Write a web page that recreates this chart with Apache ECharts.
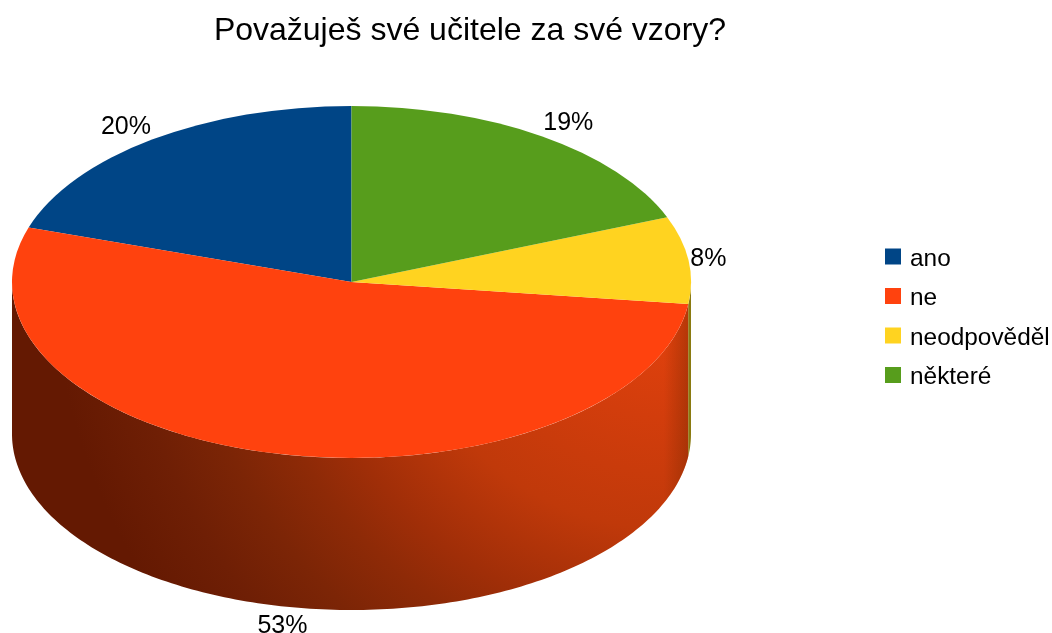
<!DOCTYPE html>
<html>
<head>
<meta charset="utf-8">
<style>html,body{margin:0;padding:0;background:#fff}#c{width:1052px;height:633px}</style>
<script src="https://cdn.jsdelivr.net/npm/echarts@6/dist/echarts.min.js"></script>
</head>
<body>
<div id="c"></div>
<script>
// Survey answers, in percent, laid out counter-clockwise from twelve o'clock
const categories = ['ano', 'ne', 'neodpověděl', 'některé'];
const shares = [20, 53, 8, 19];
const colors = ['#004586', '#ff420e', '#ffd320', '#579d1c'];
const titleText = 'Považuješ své učitele za své vzory?';

// Tilted disc geometry and label nudges from the rim, in pixels
const disc = { cx: 351.5, cy: 282, rx: 339.5, ry: 176, depth: 152 };
const labelNudges = [[-26, -13], [5, 20], [20, -1], [26, -13]];
const font = '"Liberation Sans", Arial, sans-serif';
const rad = Math.PI / 180;

const total = shares.reduce((a, b) => a + b, 0);

// Clockwise-from-top angular range of slice i
function range(i) {
  const before = shares.slice(0, i).reduce((a, b) => a + b, 0);
  const end = 360 - before / total * 360;
  return [end - shares[i] / total * 360, end];
}
function rim(deg, drop) {
  return [disc.cx + disc.rx * Math.sin(deg * rad), disc.cy - disc.ry * Math.cos(deg * rad) + drop];
}
// Outline of the side wall between two angles on the front half of the disc
function wallPoints(a, b) {
  const from = Math.max(a, 90), to = Math.min(b, 270), pts = [];
  if (to <= from) return null;
  for (let d = from; d < to; d += 1) pts.push(rim(d, 0));
  pts.push(rim(to, 0));
  for (let d = to; d > from; d -= 1) pts.push(rim(d, disc.depth));
  pts.push(rim(from, disc.depth));
  return pts;
}

const G = echarts.graphic;
// Light falls on the wall from the upper right and dies away towards the lower left
const wallShade = new G.RadialGradient(670, 250, 620, [
  { offset: 0, color: '#ee450e' },
  { offset: 0.27, color: '#d23d0c' },
  { offset: 0.45, color: '#c0390a' },
  { offset: 0.6, color: '#a02e08' },
  { offset: 0.68, color: '#8e2a07' },
  { offset: 0.78, color: '#7c2506' },
  { offset: 0.88, color: '#6f1f05' },
  { offset: 1, color: '#641902' }
], true);
const edgeShade = new G.LinearGradient(664, 0, 690, 0, [
  { offset: 0, color: 'rgba(120,40,0,0)' },
  { offset: 1, color: 'rgba(120,40,0,0.45)' }
], true);
const sideColors = { 1: wallShade, 2: '#8a7a10' };

function drawSlice(i) {
  return function () {
    const [a, b] = range(i);
    const children = [];
    const wall = wallPoints(a, b);
    if (wall) {
      children.push({ type: 'polygon', shape: { points: wall }, style: { fill: sideColors[i] || colors[i] } });
      if (i === 1) children.push({ type: 'polygon', shape: { points: wall }, style: { fill: edgeShade } });
    }
    children.push({
      type: 'group', x: disc.cx, y: disc.cy, scaleY: disc.ry / disc.rx,
      children: [{
        type: 'sector',
        shape: { cx: 0, cy: 0, r: disc.rx, r0: 0, startAngle: (a - 90) * rad, endAngle: (b - 90) * rad, clockwise: true },
        style: { fill: colors[i] }
      }]
    });
    const mid = (a + b) / 2;
    const p = rim(mid, mid > 90 && mid < 270 ? disc.depth : 0);
    children.push({
      type: 'text',
      x: p[0] + labelNudges[i][0], y: p[1] + labelNudges[i][1],
      style: {
        text: Math.round(shares[i] / total * 100) + '%',
        fontSize: 25, fontFamily: font, fill: '#000',
        align: 'center', verticalAlign: 'middle'
      }
    });
    return { type: 'group', children };
  };
}

const chart = echarts.init(document.getElementById('c'), null, { renderer: 'canvas' });
chart.setOption({
  animation: false,
  backgroundColor: '#fff',
  title: {
    text: titleText, left: 465, top: 10, textAlign: 'center',
    textStyle: { fontFamily: font, fontWeight: 'normal', fontSize: 32, color: '#000' }
  },
  legend: {
    orient: 'vertical', left: 885, top: 247, padding: 0, icon: 'rect',
    itemWidth: 16, itemHeight: 16, itemGap: 15.5,
    data: categories, selectedMode: false,
    formatter: '{t|{name}}',
    textStyle: {
      fontFamily: font, fontSize: 24.4, color: '#000', padding: [0, 0, 0, 4],
      rich: { t: { fontFamily: font, fontSize: 24.4, color: '#000', padding: [5, 0, 0, 0] } }
    }
  },
  series: categories.map((name, i) => ({
    type: 'custom', name, coordinateSystem: 'none', silent: true,
    data: [shares[i]], itemStyle: { color: colors[i] },
    renderItem: drawSlice(i)
  }))
});
</script>
</body>
</html>
